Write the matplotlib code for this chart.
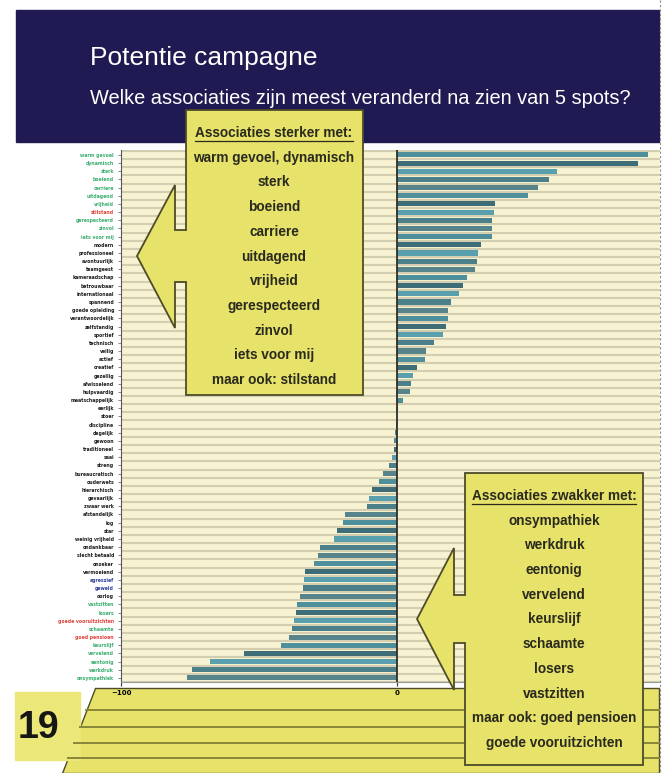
import numpy as np
import matplotlib.pyplot as plt
from matplotlib.patches import Polygon, Rectangle

W, H = 668, 773

# associations, from most strengthened (top) to most weakened (bottom)
labels = [
    'warm gevoel', 'dynamisch', 'sterk', 'boeiend', 'carriere', 'uitdagend',
    'vrijheid', 'stilstand', 'gerespecteerd', 'zinvol', 'iets voor mij',
    'modern', 'professioneel', 'avontuurlijk', 'teamgeest', 'kameraadschap',
    'betrouwbaar', 'internationaal', 'spannend', 'goede opleiding',
    'verantwoordelijk', 'zelfstandig', 'sportief', 'technisch', 'veilig',
    'actief', 'creatief', 'gezellig', 'afwisselend', 'hulpvaardig',
    'maatschappelijk', 'eerlijk', 'stoer', 'discipline', 'degelijk', 'gewoon',
    'traditioneel', 'saai', 'streng', 'bureaucratisch', 'ouderwets',
    'hierarchisch', 'gevaarlijk', 'zwaar werk', 'afstandelijk', 'log', 'star',
    'weinig vrijheid', 'ondankbaar', 'slecht betaald', 'onzeker',
    'vermoeiend', 'agressief', 'geweld', 'oorlog', 'vastzitten', 'losers',
    'goede vooruitzichten', 'schaamte', 'goed pensioen', 'keurslijf',
    'vervelend', 'eentonig', 'werkdruk', 'onsympathiek',
]
values = [
    91, 87.5, 58, 55, 51, 47.5, 35.5, 35, 34.5, 34.5, 34.5, 30.5, 29.5, 29,
    28.3, 25.3, 24, 22.5, 19.7, 18.5, 18.5, 17.8, 16.6, 13.3, 10.5, 10, 7.4,
    5.9, 5.2, 4.7, 2, 0.5, 0, -0.3, -0.6, -1, -1, -1.8, -3, -5, -6.6, -9,
    -10, -11, -19, -19.5, -21.7, -23, -27.8, -28.7, -30, -33.3, -33.6, -34,
    -35, -36.2, -36.5, -37.2, -38, -39.2, -42, -55.6, -67.6, -74.4, -76,
]
# label groups: g = green, r = red, b = blue, k = black
label_groups = list('gggggggrggg' + 'k' * 41 + 'bbk' + 'ggrgrggggg')

stronger = ['warm gevoel, dynamisch', 'sterk', 'boeiend', 'carriere',
            'uitdagend', 'vrijheid', 'gerespecteerd', 'zinvol',
            'iets voor mij', 'maar ook: stilstand']
weaker = ['onsympathiek', 'werkdruk', 'eentonig', 'vervelend', 'keurslijf',
          'schaamte', 'losers', 'vastzitten', 'maar ook: goed pensioen',
          'goede vooruitzichten']

group_colors = {'g': '#3cae70', 'r': '#e0443a', 'b': '#2f3f9c', 'k': '#1e1e1e'}
teals = ['#4f8e9b', '#3f6d77', '#5a9fad', '#4b7f89', '#56848a']
narrow = ['Liberation Sans Narrow', 'Liberation Sans', 'DejaVu Sans']
yellow = '#e6e26a'
edge = '#4d4b2a'


def px(x0, y0, x1, y1):
    return [x0 / W, 1 - y1 / H, (x1 - x0) / W, (y1 - y0) / H]


fig = plt.figure(figsize=(W / 100, H / 100), dpi=100)

# background layer: header + yellow page band
bg = fig.add_axes([0, 0, 1, 1], zorder=0)
bg.set_xlim(0, W)
bg.set_ylim(H, 0)
bg.axis('off')

bg.add_patch(Rectangle((16, 10), 643, 132, color='#1f1b52'))
bg.text(90, 58, 'Potentie campagne', color='white', fontsize=19,
        family=narrow, va='center')
bg.text(90, 98, 'Welke associaties zijn meest veranderd na zien van 5 spots?',
        color='white', fontsize=14.4, family=narrow, va='center')
bg.plot([660, 660], [0, H], color='#8a8a8a', lw=0.8, ls=(0, (2, 2)))

band_top, band_bot = 688, 773
x_top, x_bot = 95, 62
bg.add_patch(Polygon([(x_top, band_top), (659, band_top), (659, band_bot),
                      (x_bot, band_bot)], closed=True, facecolor=yellow,
                     edgecolor=edge, lw=1))
for yl in [710, 727, 743, 758]:
    xl = x_top + (x_bot - x_top) * (yl - band_top) / (band_bot - band_top)
    bg.plot([xl, 659], [yl, yl], color='#8a8638', lw=1.4)
bg.add_patch(Rectangle((15, 692), 65, 68, color='#ebe778'))
bg.text(38, 728, '19', fontsize=27, fontweight='bold', family=narrow,
        color='#161616', ha='center', va='center')

# chart
ax = fig.add_axes(px(121, 150, 660, 682), zorder=2)
n = len(values)
y = np.arange(n)
bar_colors = [teals[i % len(teals)] for i in range(n)]
ax.barh(y, values, height=0.62, color=bar_colors, zorder=3)
ax.set_xlim(-100, 95.3)
ax.set_ylim(n - 0.5, -0.6)
ax.set_facecolor('#f7f3d2')
ax.set_yticks(y)
ax.set_yticklabels(labels, fontsize=3.3, fontweight='bold')
for t, g in zip(ax.get_yticklabels(), label_groups):
    t.set_color(group_colors[g])
ax.set_yticks(np.arange(n + 1) - 0.5, minor=True)
ax.grid(which='minor', axis='y', color='#d3ceb0', lw=1.5, zorder=1)
ax.tick_params(axis='y', which='major', length=2, width=0.5, pad=3,
               color='#555555')
ax.tick_params(axis='y', which='minor', length=0)
ax.set_xticks([-100, 0])
ax.tick_params(axis='x', length=3, width=0.8, pad=3, labelsize=5,
               color='#333333')
for t in ax.get_xticklabels():
    t.set_fontweight('bold')
ax.axvline(0, color='#2e2e2e', lw=1.3, zorder=4)
ax.spines['left'].set_color('#555555')
ax.spines['bottom'].set_color('#9a9a9a')
ax.spines['top'].set_visible(False)
ax.spines['right'].set_visible(False)

# foreground layer: callouts
fg = fig.add_axes([0, 0, 1, 1], zorder=3)
fg.set_xlim(0, W)
fg.set_ylim(H, 0)
fg.axis('off')


def callout(x0, x1, y0, y1, sy0, sy1, hx, hy0, hy1, tip):
    pts = [(x0, y0), (x1, y0), (x1, y1), (x0, y1), (x0, sy1), (hx, sy1),
           (hx, hy1), tip, (hx, hy0), (hx, sy0), (x0, sy0)]
    fg.add_patch(Polygon(pts, closed=True, facecolor=yellow, edgecolor=edge,
                         lw=1.3))


def callout_text(xc, y_head, head, lines, step):
    t = fg.text(xc, y_head, head, ha='center', va='center', fontsize=9.8,
                fontweight='bold', family=narrow, color='#2a2a1e')
    for i, s in enumerate(lines):
        fg.text(xc, y_head + step * (i + 1), s, ha='center', va='center',
                fontsize=9.8, fontweight='bold', family=narrow,
                color='#2a2a1e')
    return t


callout(186, 363, 110, 395, 230, 282, 175, 185, 328, (137, 256))
h1 = callout_text(274, 133, 'Associaties sterker met:', stronger, 24.7)
callout(465, 643, 473, 765, 595, 643, 454, 548, 690, (417, 619))
h2 = callout_text(554, 496, 'Associaties zwakker met:', weaker, 24.7)

# underline the callout headers
fig.canvas.draw()
inv = fg.transData.inverted()
for h in (h1, h2):
    bb = h.get_window_extent()
    (ux0, uy), (ux1, _) = inv.transform([(bb.x0, bb.y0), (bb.x1, bb.y0)])
    fg.plot([ux0, ux1], [uy + 1, uy + 1], color='#2a2a1e', lw=0.9)

fig.savefig('out.png', dpi=100)
